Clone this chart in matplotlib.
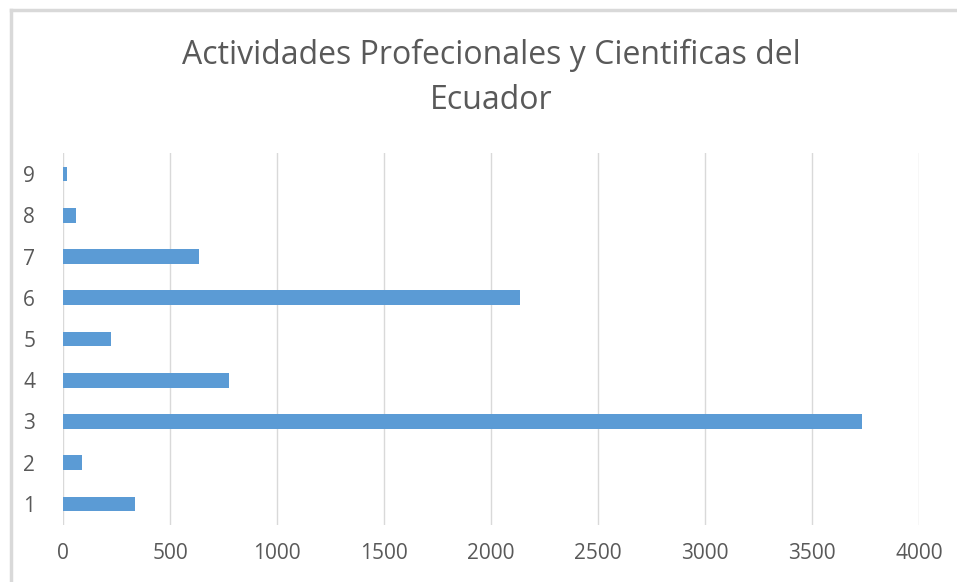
import matplotlib.pyplot as plt
from matplotlib.lines import Line2D

# Datos
categorias = [1, 2, 3, 4, 5, 6, 7, 8, 9]
valores = [337, 91, 3734, 777, 224, 2136, 637, 63, 20]
ticks_x = [0, 500, 1000, 1500, 2000, 2500, 3000, 3500, 4000]

W, H = 957, 582
fig = plt.figure(figsize=(W / 100, H / 100), dpi=100)
ax = fig.add_axes([63 / W, 1 - 524.6 / H, (919 - 63) / W, (524.6 - 153.4) / H])

gris = '#595959'
ax.barh(categorias, valores, height=0.36, color='#5B9BD5', zorder=3)

ax.set_xlim(0, 4000)
ax.set_ylim(0.5, 9.5)
ax.set_xticks(ticks_x)
ax.set_yticks(categorias)
ax.grid(axis='x', color='#D9D9D9', linewidth=1.0, zorder=0)
for s in ax.spines.values():
    s.set_visible(False)
ax.tick_params(length=0, labelsize=15, labelcolor=gris, pad=20)
ax.tick_params(axis='x', pad=13)
for lbl in ax.get_xticklabels() + ax.get_yticklabels():
    lbl.set_fontfamily('Open Sans')

# título centrado sobre el área del gráfico
tx = 491 / W
fig.text(tx, 1 - 55 / H, 'Actividades Profecionales y Cientificas del',
         ha='center', va='center', fontsize=23, color=gris, family='Open Sans')
fig.text(tx, 1 - 100 / H, 'Ecuador',
         ha='center', va='center', fontsize=23, color=gris, family='Open Sans')

# marco del gráfico
fig.add_artist(Line2D([11 / W, 1], [1 - 10 / H, 1 - 10 / H], color='#D9D9D9', lw=2.5))
fig.add_artist(Line2D([11 / W, 11 / W], [0, 1 - 10 / H], color='#D9D9D9', lw=2.5))

fig.savefig('out.png', dpi=100)
